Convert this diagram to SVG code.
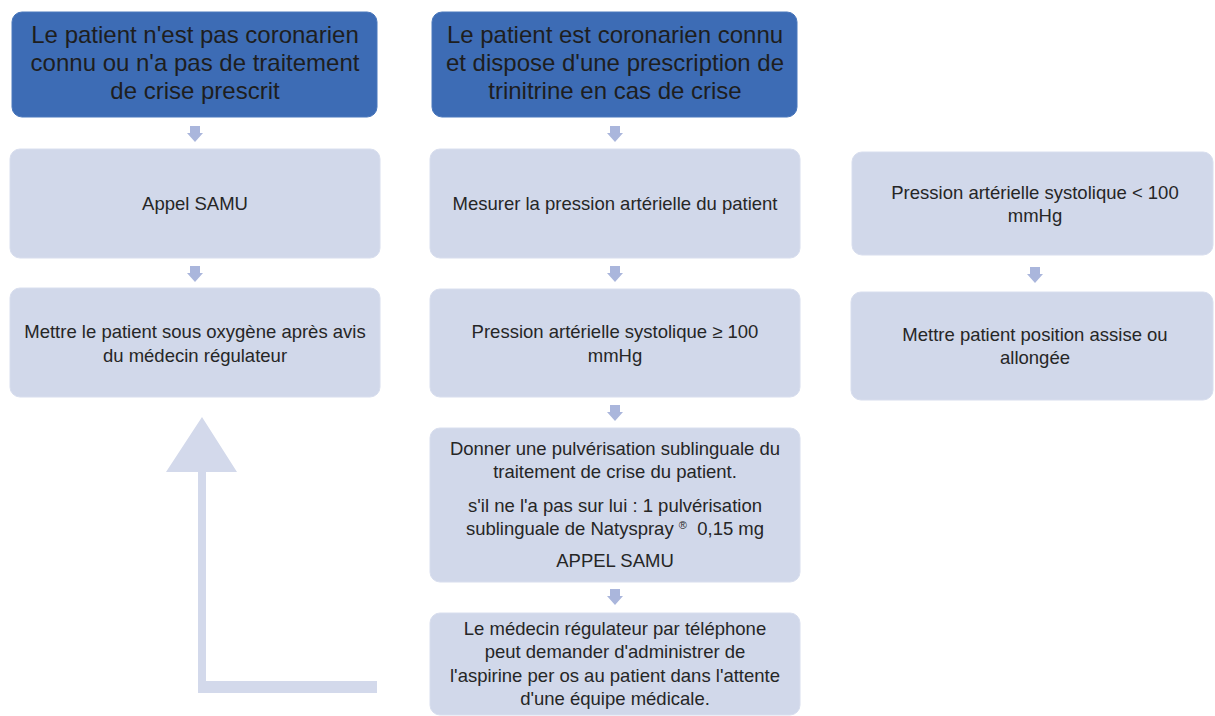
<svg xmlns="http://www.w3.org/2000/svg" width="1215" height="716" viewBox="0 0 1215 716">
<style>
.dark{fill:#3d6cb5;stroke:#4a78bd;stroke-width:1}
.light{fill:#d1d8ea;stroke:#d8deee;stroke-width:1}
.t1{font-family:"Liberation Sans",Arial,sans-serif;font-size:24px;fill:#1e1e1e;text-anchor:middle}
.t2{font-family:"Liberation Sans",Arial,sans-serif;font-size:18.5px;fill:#262626;text-anchor:middle}
.arr{fill:#aab6dc}
.big{fill:#d3d9eb}
</style>
<defs>
<path id="dn" d="M-5,0 H5 V7 H8 L0,16 L-8,7 H-5 Z"/>
</defs>
<g id="connectors">
<use href="#dn" class="arr" x="195" y="126"/>
<use href="#dn" class="arr" x="195" y="266"/>
<use href="#dn" class="arr" x="615" y="126"/>
<use href="#dn" class="arr" x="615" y="266"/>
<use href="#dn" class="arr" x="615" y="405"/>
<use href="#dn" class="arr" x="615" y="589"/>
<use href="#dn" class="arr" x="1035" y="267"/>
<path class="big" d="M377,681 V693 H198 V472 H166 L202,417 L237,472 H206 V681 Z"/>
</g>
<g id="n1"><rect class="dark" x="12" y="12" width="365" height="105" rx="10"/>
<text class="t1" x="195" y="43">Le patient n'est pas coronarien</text>
<text class="t1" x="195" y="71">connu ou n'a pas de traitement</text>
<text class="t1" x="195" y="99">de crise prescrit</text></g>
<g id="n2"><rect class="dark" x="432" y="12" width="365" height="105" rx="10"/>
<text class="t1" x="615" y="43">Le patient est coronarien connu</text>
<text class="t1" x="615" y="71">et dispose d'une prescription de</text>
<text class="t1" x="615" y="99">trinitrine en cas de crise</text></g>
<g id="n3"><rect class="light" x="10" y="149" width="370" height="109" rx="10"/>
<text class="t2" x="195" y="210">Appel SAMU</text></g>
<g id="n4"><rect class="light" x="10" y="288" width="370" height="109" rx="10"/>
<text class="t2" x="195" y="338">Mettre le patient sous oxygène après avis</text>
<text class="t2" x="195" y="362">du médecin régulateur</text></g>
<g id="n5"><rect class="light" x="430" y="149" width="370" height="109" rx="10"/>
<text class="t2" x="615" y="210">Mesurer la pression artérielle du patient</text></g>
<g id="n6"><rect class="light" x="430" y="289" width="370" height="108" rx="10"/>
<text class="t2" x="615" y="338">Pression artérielle systolique ≥ 100</text>
<text class="t2" x="615" y="362">mmHg</text></g>
<g id="n7"><rect class="light" x="430" y="428" width="370" height="154" rx="10"/>
<text class="t2" x="615" y="455">Donner une pulvérisation sublinguale du</text>
<text class="t2" x="615" y="478">traitement de crise du patient.</text>
<text class="t2" x="615" y="512">s'il ne l'a pas sur lui : 1 pulvérisation</text>
<text class="t2" x="615" y="535">sublinguale de Natyspray <tspan font-size="11" dy="-6">®</tspan><tspan dy="6">&#160; 0,15 mg</tspan></text>
<text class="t2" x="615" y="567">APPEL SAMU</text></g>
<g id="n8"><rect class="light" x="430" y="613" width="370" height="102" rx="10"/>
<text class="t2" x="615" y="635">Le médecin régulateur par téléphone</text>
<text class="t2" x="615" y="658">peut demander d'administrer de</text>
<text class="t2" x="615" y="682">l'aspirine per os au patient dans l'attente</text>
<text class="t2" x="615" y="705">d'une équipe médicale.</text></g>
<g id="n9"><rect class="light" x="852" y="152" width="361" height="103" rx="10"/>
<text class="t2" x="1035" y="199">Pression artérielle systolique &lt; 100</text>
<text class="t2" x="1035" y="222">mmHg</text></g>
<g id="n10"><rect class="light" x="851" y="292" width="362" height="108" rx="10"/>
<text class="t2" x="1035" y="341">Mettre patient position assise ou</text>
<text class="t2" x="1035" y="364">allongée</text></g>
</svg>
